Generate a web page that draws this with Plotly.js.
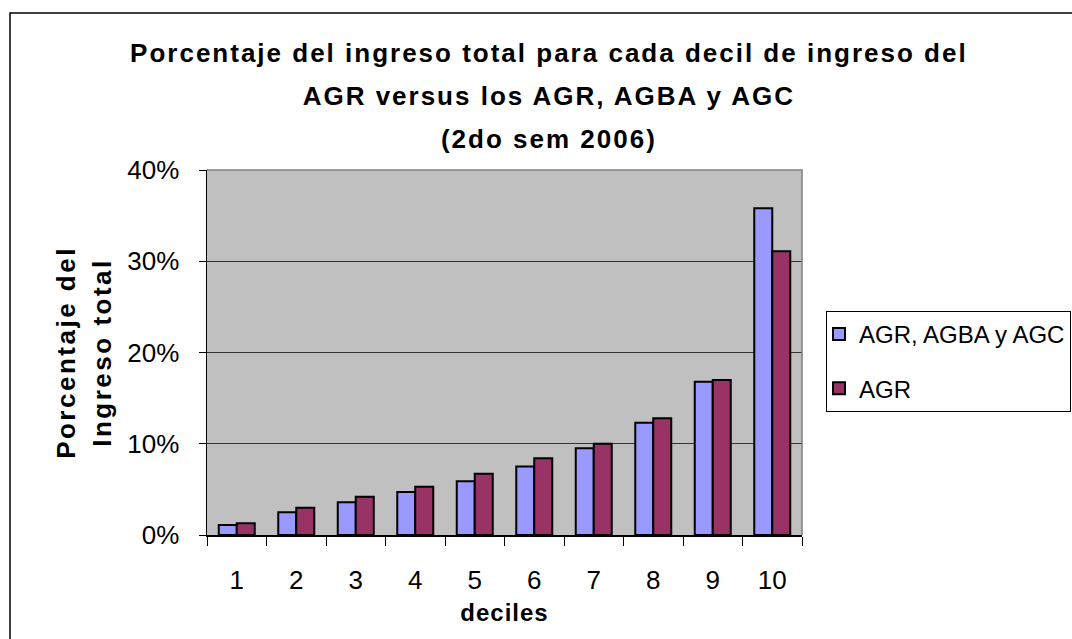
<!DOCTYPE html>
<html>
<head>
<meta charset="utf-8">
<script src="https://cdn.plot.ly/plotly-3.0.1.min.js"></script>
<style>
  html, body { margin: 0; padding: 0; background: #ffffff; }
  #chart { width: 1072px; height: 639px; }
  .gtitle { letter-spacing: 2px; }
  .ytitle { letter-spacing: 2.5px; }
  .xtitle { letter-spacing: 1px; }
</style>
</head>
<body>
<div id="chart"></div>
<script>
// ---- data ----
const deciles = ['1', '2', '3', '4', '5', '6', '7', '8', '9', '10'];
const seriesNames = ['AGR, AGBA y AGC', 'AGR'];
const agrAgbaAgc = [0.011, 0.025, 0.036, 0.047, 0.059, 0.075, 0.095, 0.123, 0.168, 0.358];
const agr = [0.013, 0.030, 0.042, 0.053, 0.067, 0.084, 0.100, 0.128, 0.170, 0.311];
const yTickVals = [0, 0.1, 0.2, 0.3, 0.4];
const yTickText = ['0%', '10%', '20%', '30%', '40%'];
const titleLines = ['Porcentaje del ingreso total para cada decil de ingreso del', 'AGR versus los AGR, AGBA y AGC', '(2do sem 2006)'];
const yTitleLines = ['Porcentaje del', 'Ingreso total'];
const xTitleText = 'deciles';

const FONT = 'Arial, "Liberation Sans", sans-serif';

const traces = [
  {
    type: 'bar', name: seriesNames[0], x: deciles, y: agrAgbaAgc,
    legendgroup: 'a',
    marker: { color: '#9999FF', line: { color: '#000000', width: 2 } },
    hoverinfo: 'skip'
  },
  {
    type: 'bar', name: seriesNames[1], x: deciles, y: agr,
    legendgroup: 'b',
    marker: { color: '#993366', line: { color: '#000000', width: 2 } },
    hoverinfo: 'skip'
  }
];

const wrap = (t, s) => '<span style="font-size:' + s + 'px">' + t + '</span>';

const layout = {
  width: 1072, height: 639,
  margin: { l: 207, r: 270, t: 170, b: 104, autoexpand: false },
  paper_bgcolor: '#ffffff',
  plot_bgcolor: '#C0C0C0',
  font: { family: FONT, color: '#000000' },
  barmode: 'group',
  bargap: 0.395,
  bargroupgap: 0,
  title: {
    text: titleLines.map(t => wrap(t, 26)).join('<br>'),
    font: { family: FONT, size: 33, color: '#000000', weight: 'bold' },
    xref: 'container', x: 0.512, xanchor: 'center',
    yref: 'container', y: 0.903, yanchor: 'top'
  },
  xaxis: {
    type: 'category',
    showline: true, linecolor: '#000000', linewidth: 1.5,
    ticks: 'outside', tickson: 'boundaries', ticklen: 9, tickcolor: '#000000', tickwidth: 1,
    ticklabelstandoff: 21,
    tickfont: { family: FONT, size: 26, color: '#000000' },
    showgrid: false, zeroline: false,
    title: {
      text: xTitleText,
      font: { family: FONT, size: 24, color: '#000000', weight: 'bold' },
      standoff: 10
    },
    automargin: false
  },
  yaxis: {
    range: [0, 0.4],
    tickvals: yTickVals, ticktext: yTickText,
    showline: true, linecolor: '#000000', linewidth: 1.5,
    ticks: 'outside', ticklen: 7, tickcolor: '#000000', tickwidth: 1,
    ticklabelstandoff: 14,
    tickfont: { family: FONT, size: 26, color: '#000000' },
    showgrid: true, gridcolor: '#333333', gridwidth: 1,
    zeroline: false,
    title: {
      text: yTitleLines.map(t => wrap(t, 26)).join('<br>'),
      font: { family: FONT, size: 27, color: '#000000', weight: 'bold' },
      standoff: 8
    },
    automargin: false
  },
  showlegend: true,
  legend: {
    x: (826 - 207) / 595, xanchor: 'left',
    y: (535 - 311) / 365, yanchor: 'top',
    bgcolor: '#ffffff', bordercolor: '#000000', borderwidth: 1,
    font: { family: FONT, size: 24, color: '#000000' },
    traceorder: 'grouped', tracegroupgap: 20,
    indentation: -8
  },
  shapes: [
    {
      type: 'path', xref: 'paper', yref: 'paper',
      path: 'M 0 1 L 1 1 L 1 0',
      line: { color: '#808080', width: 1.5 }
    },
    {
      type: 'rect', xref: 'paper', yref: 'paper',
      x0: (10 - 207) / 595, x1: 2, y0: -1, y1: (535 - 13) / 365,
      line: { color: '#000000', width: 1.5 }, fillcolor: 'rgba(0,0,0,0)'
    }
  ]
};

Plotly.newPlot('chart', traces, layout, { staticPlot: true, displayModeBar: false });
</script>
</body>
</html>
